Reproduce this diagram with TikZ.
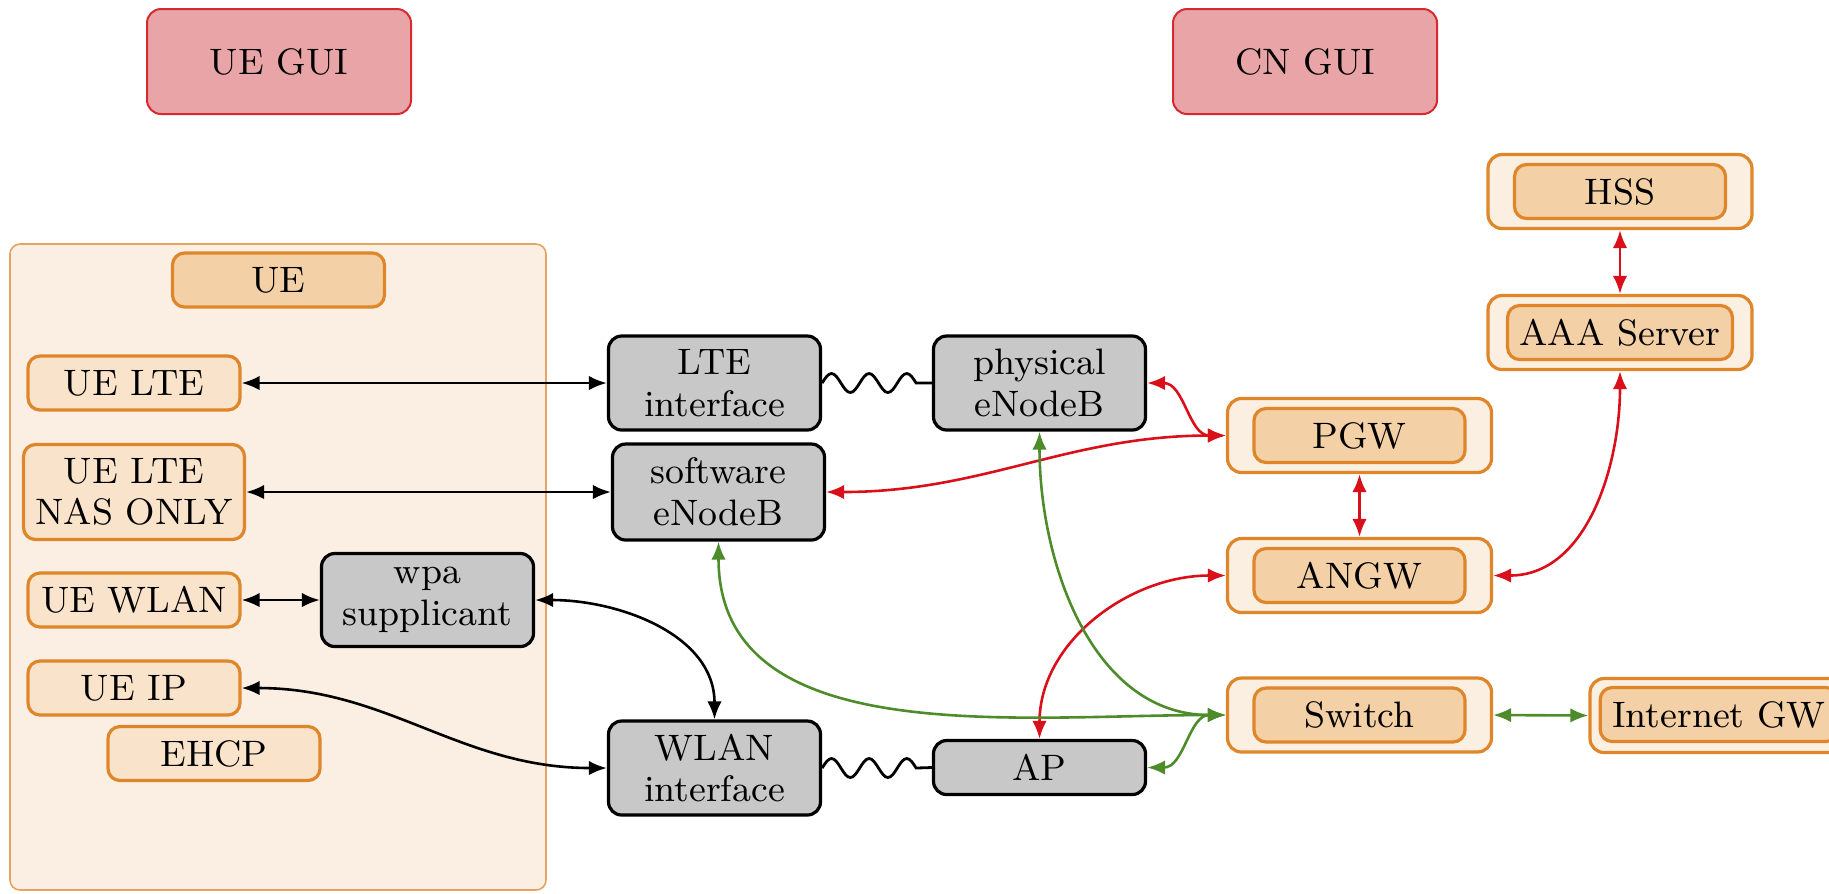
\documentclass[tikz,border=0pt]{standalone}
\usetikzlibrary{arrows.meta}

\definecolor{guifill}{HTML}{E8A4A7}
\definecolor{guiline}{HTML}{D42A30}
\definecolor{orline}{HTML}{E0862A}
\definecolor{orfill}{HTML}{F3D0A5}
\definecolor{orlight}{HTML}{F9E3CA}
\definecolor{orpale}{HTML}{FBEFE1}
\definecolor{ueback}{HTML}{FAEFE2}
\definecolor{ueline}{HTML}{E6A463}
\definecolor{greyfill}{HTML}{C8C8C8}
\definecolor{linkred}{HTML}{D9101A}
\definecolor{linkgreen}{HTML}{4E8C2B}

\tikzset{
  every node/.style={font=\fontsize{9.2}{10.4}\selectfont, inner sep=0pt},
  gui/.style={draw=guiline, fill=guifill, line width=0.5pt, rounded corners=3.5pt,
    minimum width=66pt, minimum height=26.25pt},
  uecontainer/.style={draw=ueline, fill=ueback, line width=0.4pt, rounded corners=2.5pt},
  uepart/.style={draw=orline, fill=orlight, line width=0.8pt, rounded corners=3pt,
    minimum width=53pt, minimum height=13.5pt, align=center, inner xsep=3pt},
  uehead/.style={uepart, fill=orfill},
  hostbox/.style={draw=black, fill=greyfill, line width=0.8pt, rounded corners=3.3pt,
    minimum width=53pt, minimum height=13.5pt, align=center, inner xsep=3pt},
  shell/.style={draw=orline, fill=orpale, line width=0.8pt, rounded corners=3.5pt,
    minimum width=66pt, minimum height=18.5pt},
  core/.style={draw=orline, fill=orfill, line width=0.8pt, rounded corners=3pt,
    minimum width=52.75pt, minimum height=13.5pt, inner xsep=3pt},
  link/.style={line width=0.65pt, {Latex[length=4.5pt,width=3.6pt]}-{Latex[length=4.5pt,width=3.6pt]}},
  blk/.style={link, draw=black},
  redl/.style={link, draw=linkred},
  grn/.style={link, draw=linkgreen},
  radio/.style={line width=0.7pt, draw=black},
}

\begin{document}
\begin{tikzpicture}[x=0.25pt, y=0.25pt]
  \useasboundingbox (0,0) rectangle (1829,-893);
  \clip (0,0) rectangle (1829,-893);

  % GUIs
  \node[gui] (uegui) at (279,-61.5) {UE GUI};
  \node[gui] (cngui) at (1305,-61.5) {CN GUI};

  % UE side
  \node[uecontainer, minimum width=134pt, minimum height=161.5pt] (uebox) at (278,-567) {};
  \node[uehead] (ue) at (278.5,-280) {UE};
  \node[uepart] (uelte) at (134,-383) {UE LTE};
  \node[uepart, minimum height=23.75pt] (uenas) at (134,-492) {UE LTE\\NAS ONLY};
  \node[uepart] (uewlan) at (134,-600) {UE WLAN};
  \node[hostbox, minimum height=23.25pt] (wpa) at (427.5,-600) {wpa\\supplicant};
  \node[uepart] (ueip) at (134,-688) {UE IP};
  \node[uepart] (ehcp) at (214,-753.5) {EHCP};

  % radio side
  \node[hostbox, minimum height=23.5pt] (lteif) at (714.5,-383) {LTE\\interface};
  \node[hostbox, minimum height=23.5pt] (phys) at (1039.5,-383) {physical\\eNodeB};
  \node[hostbox, minimum height=24pt] (soft) at (718.5,-492) {software\\eNodeB};
  \node[hostbox, minimum height=23.5pt] (wlanif) at (714.5,-768) {WLAN\\interface};
  \node[hostbox] (ap) at (1039.5,-767.5) {AP};

  % core network
  \node[shell] (hss) at (1620,-191.5) {};
  \node[core] (hsscore) at (hss) {HSS};
  \node[shell] (aaa) at (1620,-332.5) {};
  \node[core] (aaacore) at (aaa) {AAA Server};
  \node[shell] (pgw) at (1359.5,-435.5) {};
  \node[core] (pgwcore) at (pgw) {PGW};
  \node[shell] (angw) at (1359.5,-575.5) {};
  \node[core] (angwcore) at (angw) {ANGW};
  \node[shell] (switch) at (1359.5,-715) {};
  \node[core] (switchcore) at (switch) {Switch};
  \node[shell, minimum width=72pt] (inet) at (1734,-715.5) {};
  \node[core, minimum width=57pt] (inetcore) at (1719,-714.5) {Internet GW};

  % UE links
  \draw[blk] (uelte.east) -- (lteif.west);
  \draw[blk] (uenas.east) -- (soft.west);
  \draw[blk] (uewlan.east) -- (wpa.west);
  \draw[blk] (wpa.east) to[out=0,in=90] (wlanif.north);
  \draw[blk] (ueip.east) to[out=0,in=180] (wlanif.west);

  % air interfaces
  \draw[radio] (lteif.east) sin ++(9.4,9.5) cos ++(9.4,-9.5) sin ++(9.4,-9.5) cos ++(9.4,9.5)
    sin ++(9.4,9.5) cos ++(9.4,-9.5) sin ++(9.4,-9.5) cos ++(9.4,9.5)
    sin ++(9.4,9.5) cos ++(9.4,-9.5) -- (phys.west);
  \draw[radio] (wlanif.east) sin ++(9.4,9.5) cos ++(9.4,-9.5) sin ++(9.4,-9.5) cos ++(9.4,9.5)
    sin ++(9.4,9.5) cos ++(9.4,-9.5) sin ++(9.4,-9.5) cos ++(9.4,9.5)
    sin ++(9.4,9.5) cos ++(9.4,-9.5) -- (ap.west);

  % control plane
  \draw[redl] (hss.south) -- (aaa.north);
  \draw[redl] (pgw.south) -- (angw.north);
  \draw[redl] (phys.east) to[out=0,in=180] (pgw.west);
  \draw[redl] (soft.east) to[out=0,in=180] (pgw.west);
  \draw[redl] (ap.north) to[out=90,in=180] (angw.west);
  \draw[redl] (angw.east) to[out=0,in=-90] (aaa.south);

  % data plane
  \draw[grn] (soft.south) to[out=-90,in=180] (switch.west);
  \draw[grn] (phys.south) to[out=-90,in=180] (switch.west);
  \draw[grn] (ap.east) to[out=0,in=180] (switch.west);
  \draw[grn] (switch.east) -- (inet.west);
\end{tikzpicture}
\end{document}
